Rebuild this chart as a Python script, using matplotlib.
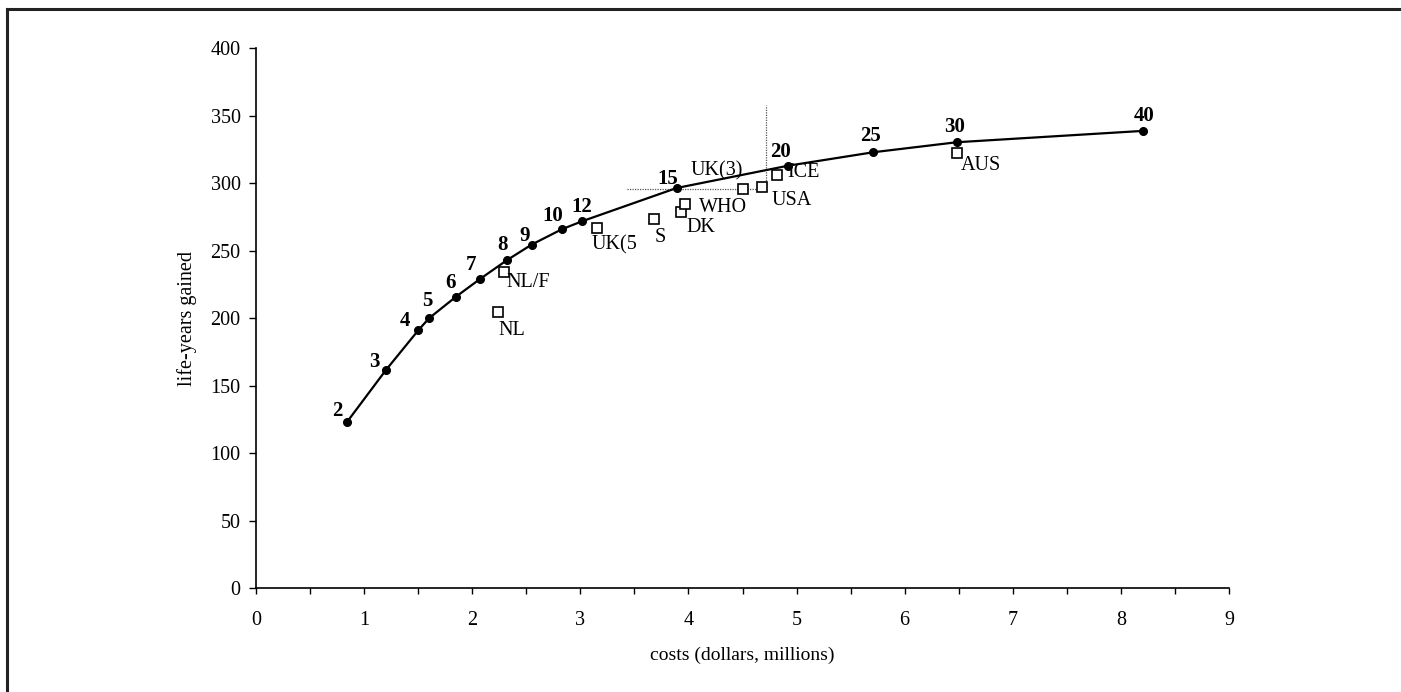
import matplotlib
matplotlib.use("Agg")
import matplotlib.pyplot as plt
from matplotlib.lines import Line2D

plt.rcParams['font.family'] = ['Liberation Serif', 'DejaVu Serif']

# curve: number of screening rounds -> (cost, life-years)
rounds = ['2', '3', '4', '5', '6', '7', '8', '9', '10', '12', '15', '20', '25', '30', '40']
curve_cost = [0.84, 1.20, 1.50, 1.60, 1.85, 2.07, 2.32, 2.55, 2.83, 3.02, 3.89, 4.92, 5.71, 6.48, 8.20]
curve_life = [123, 161.5, 191, 200, 216, 229, 243, 254.6, 266, 272, 296.5, 313, 323, 330.4, 338.8]

# actual programmes
countries = ['UK(5', 'NL/F', 'NL', 'S', 'DK', 'WHO', 'UK(3)', 'USA', 'ICE', 'AUS']
country_cost = [3.15, 2.29, 2.24, 3.68, 3.93, 3.97, 4.50, 4.68, 4.82, 6.48]
country_life = [266.7, 234.3, 205, 273.3, 278.5, 285, 295.6, 297.5, 306, 322.7]

# dotted reference lines
href_y = 296
href_x = [3.43, 4.68]
vref_x = 4.715
vref_y = [300, 358]

# label offsets in pixels (dx, dy up), baseline anchored
round_offsets = [(-10, 6), (-11, 3), (-13, 4), (-2, 12), (-6, 9), (-9, 9), (-4, 10),
                 (-7, 4), (-9, 8), (-1, 9), (-9, 4), (-7, 9), (-3, 11), (-2, 10), (2, 10)]
country_offsets = [(-5, -21, 'left'), (3, -15, 'left'), (0, -23, 'left'), (1, -23, 'left'),
                   (6, -20, 'left'), (14, -8, 'left'), (0, 14, 'right'), (10, -18, 'left'),
                   (10, -2, 'left'), (4, -17, 'left')]

fig = plt.figure(figsize=(14.01, 6.92), dpi=100)
ax = fig.add_axes([256 / 1401, 1 - 588.3 / 692, 973 / 1401, 540 / 692])

ax.plot(href_x, [href_y, href_y], color='#555555', lw=0.9, ls=(0, (1, 1)))
ax.plot([vref_x, vref_x], vref_y, color='#555555', lw=0.9, ls=(0, (1, 1)))

ax.plot(curve_cost, curve_life, color='black', lw=1.6, marker='o', ms=5.5, zorder=3)
ax.plot(country_cost, country_life, ls='none', marker='s', ms=7.5, mfc='white',
        mec='black', mew=1.2, zorder=4)

for lab, x, y, (dx, dy) in zip(rounds, curve_cost, curve_life, round_offsets):
    ax.annotate(lab, (x, y), xytext=(dx, dy), textcoords='offset pixels',
                ha='center', va='baseline', fontsize=15, fontweight='bold', zorder=5)

for lab, x, y, (dx, dy, ha) in zip(countries, country_cost, country_life, country_offsets):
    ax.annotate(lab, (x, y), xytext=(dx, dy), textcoords='offset pixels',
                ha=ha, va='baseline', fontsize=14.5, zorder=5)

ax.set_xlim(0, 9)
ax.set_ylim(0, 400)
ax.set_xticks(range(0, 10))
ax.set_xticks([i + 0.5 for i in range(9)], minor=True)
ax.set_yticks(range(0, 401, 50))
ax.spines['top'].set_visible(False)
ax.spines['right'].set_visible(False)
ax.spines['left'].set_linewidth(1.2)
ax.spines['bottom'].set_linewidth(1.2)
ax.tick_params(axis='x', which='both', direction='out', length=4, width=1, pad=12, labelsize=14.5)
ax.tick_params(axis='y', direction='out', length=5, width=1, pad=6, labelsize=14.5)
ax.set_xlabel('costs (dollars, millions)', fontsize=14, labelpad=12)
ax.set_ylabel('life-years gained', fontsize=14.5, labelpad=10)

# page frame (top and left edges only)
fig.add_artist(Line2D([7 / 1401, 1], [1 - 9 / 692, 1 - 9 / 692], color='#222222', lw=2.2))
fig.add_artist(Line2D([7 / 1401, 7 / 1401], [0, 1 - 9 / 692], color='#222222', lw=2.2))

fig.savefig('out.png', dpi=100)
